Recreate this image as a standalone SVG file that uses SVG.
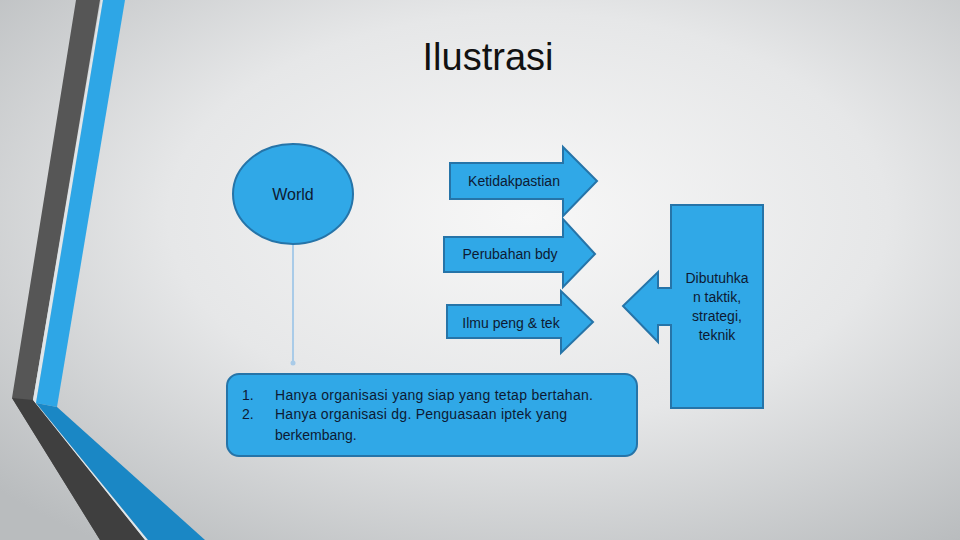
<svg xmlns="http://www.w3.org/2000/svg" width="960" height="540" viewBox="0 0 960 540">
<defs>
<radialGradient id="bg" cx="0.55" cy="0.4" r="0.75">
<stop offset="0" stop-color="#f7f7f7"/>
<stop offset="0.5" stop-color="#e6e7e8"/>
<stop offset="1" stop-color="#b9bcbe"/>
</radialGradient>
<marker id="dot" markerWidth="6" markerHeight="6" refX="3" refY="3" markerUnits="userSpaceOnUse"><circle cx="3" cy="3" r="2.5" fill="#a9cbe8"/></marker>
</defs>
<style>
.shape{fill:#30a8e7;stroke:#2674a8;stroke-width:2}
.t{font-family:"Liberation Sans",Arial,sans-serif;fill:#0d1a33;font-size:14px}
.c{text-anchor:middle}
</style>
<rect width="960" height="540" fill="url(#bg)"/>
<g id="decor">
<polygon points="76,0 100,0 33,400 145,540 100,540 12,398" fill="#565656"/>
<polygon points="12,398 33,400 145,540 100,540" fill="#3f3f3f"/>
<polygon points="101,0 103,0 36,403 148,540 145,540 33,400" fill="#dfe6ea"/>
<polygon points="103,0 125,0 57,407 36,403" fill="#2ea6e6"/>
<polygon points="36,403 57,407 205,540 148,540" fill="#1a87c5"/>
</g>
<text class="t c" x="488" y="70" style="font-size:38px;fill:#111">Ilustrasi</text>
<g id="connectors">
<line x1="293" y1="244" x2="293" y2="363" stroke="#a9cbe8" stroke-width="2" marker-end="url(#dot)"/>
</g>
<g id="world">
<ellipse class="shape" cx="293" cy="194" rx="60" ry="50"/>
<text class="t c" x="293" y="200" style="font-size:16px">World</text>
</g>
<g id="ketidakpastian">
<polygon class="shape" points="450,163 563,163 563,147 597,181 563,216 563,199 450,199"/>
<text class="t c" x="514" y="186">Ketidakpastian</text>
</g>
<g id="perubahan">
<polygon class="shape" points="444,237 563,237 563,219 595,254 563,287 563,272 444,272"/>
<text class="t c" x="510" y="259">Perubahan bdy</text>
</g>
<g id="ilmu">
<polygon class="shape" points="447,305 561,305 561,291 593,322 561,353 561,338 447,338"/>
<text class="t c" x="511" y="328">Ilmu peng &amp; tek</text>
</g>
<g id="hasil">
<rect class="shape" x="227" y="374" width="410" height="82" rx="12"/>
<text class="t" x="242" y="400">1.</text>
<text class="t" x="242" y="419">2.</text>
<text class="t" x="275" y="400" textLength="318" lengthAdjust="spacing">Hanya organisasi yang siap yang tetap bertahan.</text>
<text class="t" x="275" y="419" textLength="292" lengthAdjust="spacing">Hanya organisasi dg. Penguasaan iptek yang</text>
<text class="t" x="275" y="440">berkembang.</text>
</g>
<g id="dibutuhkan">
<polygon class="shape" points="671,205 763,205 763,408 671,408 671,325 658,325 658,342 623,306 658,272 658,288 671,288"/>
<text class="t c" x="717" y="283">Dibutuhka</text>
<text class="t c" x="717" y="302">n taktik,</text>
<text class="t c" x="717" y="321">strategi,</text>
<text class="t c" x="717" y="340">teknik</text>
</g>
</svg>
